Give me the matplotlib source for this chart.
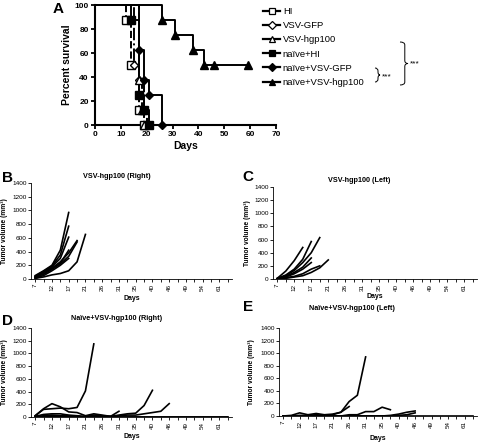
import matplotlib.pyplot as plt
from matplotlib.path import Path
from matplotlib.patches import PathPatch

plt.rcParams['font.family'] = ['Liberation Sans', 'DejaVu Sans']

W, H = 479, 442

# Panel A: Kaplan-Meier survival
groups = ['HI', 'VSV-GFP', 'VSV-hgp100', 'naïve+HI', 'naïve+VSV-GFP', 'naïve+VSV-hgp100']
surv_days = [
    [0, 12, 14, 17, 19],
    [0, 15, 17, 19, 20],
    [0, 17, 18, 19],
    [0, 14, 17, 19, 21],
    [0, 17, 19, 21, 26],
    [0, 26, 31, 38, 42, 46, 59],
]
surv_pct = [
    [100, 87.5, 50, 12.5, 0],
    [100, 50, 37.5, 12.5, 0],
    [100, 37.5, 12.5, 0],
    [100, 87.5, 25, 12.5, 0],
    [100, 62.5, 37.5, 25, 0],
    [100, 87.5, 75, 62.5, 50, 50, 50],
]
markers = ['s', 'D', '^', 's', 'D', '^']
filled = [False, False, False, True, True, True]
styles = ['--', '-.', '--', '-', '-', '-']

# Panels B-E: tumour growth (category axis)
days = [7, 10, 12, 14, 17, 19, 21, 24, 26, 28, 31, 33, 35, 38, 40, 42, 46, 47, 49, 52, 54, 56, 61, 63]

right_b = [
    [50, 120, 200, 420, 970],
    [40, 110, 190, 350, 770],
    [30, 100, 180, 300, 610],
    [30, 100, 160, 250, 380, 560],
    [20, 80, 150, 220, 330, 540],
    [10, 30, 60, 80, 120, 250, 650],
    [20, 70, 140, 230, 420],
    [10, 50, 120, 200, 300],
]
left_c = [
    [10, 120, 280, 480],
    [10, 60, 150, 300, 570],
    [5, 50, 130, 250, 400, 630],
    [5, 40, 100, 180, 320],
    [0, 20, 40, 80, 150, 200],
    [0, 10, 30, 50, 100, 170, 290],
    [0, 30, 80, 150, 250],
]
naive_right_d = [
    [20, 120, 130, 140, 130, 150, 410, 1150],
    [20, 130, 210, 160, 80, 70, 20, 50, 30, 10, 90],
    [10, 40, 50, 50, 30, 20, 10, 30, 20, 10, 30, 50, 60, 180, 420],
    [0, 20, 30, 20, 20, 10, 0, 10, 10, 10, 20, 30, 30, 50, 70, 90, 210],
    [0, 10, 20, 10, 10, 0, 0, 0, 0, 0, 0, 0, 0, 0, 0, 0, 0, 0, 0, 0, 0, 0, 0, 0],
    [0, 0, 10, 0, 0, 0, 0, 0, 0, 0, 0, 0, 0, 0, 0, 0, 0, 0, 0, 0, 0, 0, 0, 0],
]
naive_left_e = [
    [0, 10, 50, 20, 40, 20, 30, 60, 230, 330, 940],
    [0, 0, 10, 10, 20, 10, 20, 60, 150],
    [0, 0, 0, 0, 0, 0, 0, 0, 20, 20, 70, 70, 140, 100],
    [0, 0, 0, 0, 0, 0, 0, 0, 0, 0, 0, 0, 0, 10, 30, 60, 80],
    [0, 0, 0, 0, 0, 0, 0, 0, 0, 0, 0, 0, 0, 0, 10, 20, 50],
    [0, 0, 0, 0, 0, 0, 0, 0, 0, 0, 0, 0, 0, 0, 0, 0, 0, 0, 0, 0, 0, 0, 0, 0],
]


def px_axes(fig, left, top, right, bottom):
    return fig.add_axes([left / W, 1 - bottom / H, (right - left) / W, (bottom - top) / H])


def brace(fig, x, y0, y1, w):
    # curly brace opening to the left, in pixel coords (y from top)
    ym = (y0 + y1) / 2
    pts = [(x, y0), (x + w * 0.6, y0), (x + w * 0.6, y0 + 3),
           (x + w * 0.6, ym - 3), (x + w * 0.6, ym), (x + w, ym),
           (x + w * 0.6, ym), (x + w * 0.6, ym + 3),
           (x + w * 0.6, y1 - 3), (x + w * 0.6, y1), (x, y1)]
    codes = [Path.MOVETO, Path.CURVE3, Path.CURVE3, Path.LINETO, Path.CURVE3, Path.CURVE3,
             Path.CURVE3, Path.CURVE3, Path.LINETO, Path.CURVE3, Path.CURVE3]
    verts = [(px / W, 1 - py / H) for px, py in pts]
    fig.add_artist(PathPatch(Path(verts, codes), fill=False, lw=0.7, color='black',
                             transform=fig.transFigure))


fig = plt.figure(figsize=(W / 100, H / 100), dpi=100)

# ---- Panel A
ax = px_axes(fig, 95, 5, 276, 125)
for i in range(len(groups)):
    ax.step(surv_days[i], surv_pct[i], where='post', color='black', ls=styles[i],
            lw=1.4, clip_on=False)
    ms = 4.5 if markers[i] == 'D' else 6
    ax.plot(surv_days[i][1:], surv_pct[i][1:], ls='none', marker=markers[i], ms=ms,
            mfc='black' if filled[i] else 'white', mec='black', mew=1.0, clip_on=False,
            zorder=3)
handles = []
for i in range(len(groups)):
    ms = 4 if markers[i] == 'D' else 5
    h, = ax.plot([], [], color='black', lw=1.6, marker=markers[i], ms=ms,
                 mfc='black' if filled[i] else 'white', mec='black', mew=0.9)
    handles.append(h)
fig.legend(handles, groups, loc='upper left', bbox_to_anchor=(263 / W, 1 - 7 / H),
           frameon=False, fontsize=6.8, handlelength=1.8, handletextpad=0.3,
           labelspacing=0.55, borderaxespad=0, borderpad=0)
ax.set_xlim(0, 70)
ax.set_ylim(0, 100)
ax.set_xticks(range(0, 71, 10))
ax.set_yticks(range(0, 101, 20))
for s in ['top', 'right']:
    ax.spines[s].set_visible(False)
for s in ['left', 'bottom']:
    ax.spines[s].set_linewidth(1.5)
ax.tick_params(width=1.3, length=3, labelsize=6, pad=1.5)
for lab in ax.get_xticklabels() + ax.get_yticklabels():
    lab.set_fontweight('bold')
ax.set_xlabel('Days', fontsize=7.5, fontweight='bold', labelpad=2)
ax.set_ylabel('Percent survival', fontsize=7.5, fontweight='bold', labelpad=2)
fig.text(53 / W, 1 - 2 / H, 'A', fontsize=11, fontweight='bold', va='top')

brace(fig, 400, 42, 85, 8)
fig.text(410 / W, 1 - 64 / H, '***', fontsize=6, va='center')
brace(fig, 375, 68, 82, 5)
fig.text(382 / W, 1 - 77 / H, '***', fontsize=6, va='center')

# ---- Panels B-E
panels = [
    (right_b, (31, 183, 232, 279), 'VSV-hgp100 (Right)', 'B', (2, 171), (117, 177), 1, 299),
    (left_c, (273, 187, 477, 279), 'VSV-hgp100 (Left)', 'C', (242, 170), (359, 180), 244, 297),
    (naive_right_d, (31, 328, 232, 417), 'Naïve+VSV-hgp100 (Right)', 'D', (2, 314), (117, 318), 1, 437),
    (naive_left_e, (279, 328, 477, 416), 'Naïve+VSV-hgp100 (Left)', 'E', (243, 300), (352, 308), 248, 438),
]
for series, box, title, letter, lpos, tpos, ylx, dayy in panels:
    ax = px_axes(fig, *box)
    for vals in series:
        ax.plot(range(len(vals)), vals, color='black', lw=1.2)
    ax.set_xlim(-0.5, len(days) - 0.5)
    ax.set_ylim(0, 1400)
    ax.set_yticks(range(0, 1401, 200))
    ax.set_xticks(range(len(days)))
    ax.set_xticklabels([str(d) if i % 2 == 0 else '' for i, d in enumerate(days)],
                       rotation=90, fontsize=4.5)
    ax.tick_params(axis='y', labelsize=4.6, length=2, width=0.6, pad=1)
    ax.tick_params(axis='x', length=2, width=0.6, pad=1.5)
    for s in ['top', 'right']:
        ax.spines[s].set_visible(False)
    for s in ['left', 'bottom']:
        ax.spines[s].set_linewidth(0.6)
    fig.text(tpos[0] / W, 1 - tpos[1] / H, title, fontsize=5.2, fontweight='bold',
             ha='center', va='center')
    fig.text(lpos[0] / W, 1 - lpos[1] / H, letter, fontsize=11, fontweight='bold', va='top')
    fig.text(ylx / W, 1 - (box[1] + box[3]) / 2 / H, 'Tumor volume (mm³)', fontsize=4.8,
             fontweight='bold', rotation=90, ha='left', va='center')
    fig.text((box[0] + box[2]) / 2 / W, 1 - dayy / H, 'Days', fontsize=5, fontweight='bold',
             ha='center', va='center')

fig.savefig('out.png', dpi=100)
